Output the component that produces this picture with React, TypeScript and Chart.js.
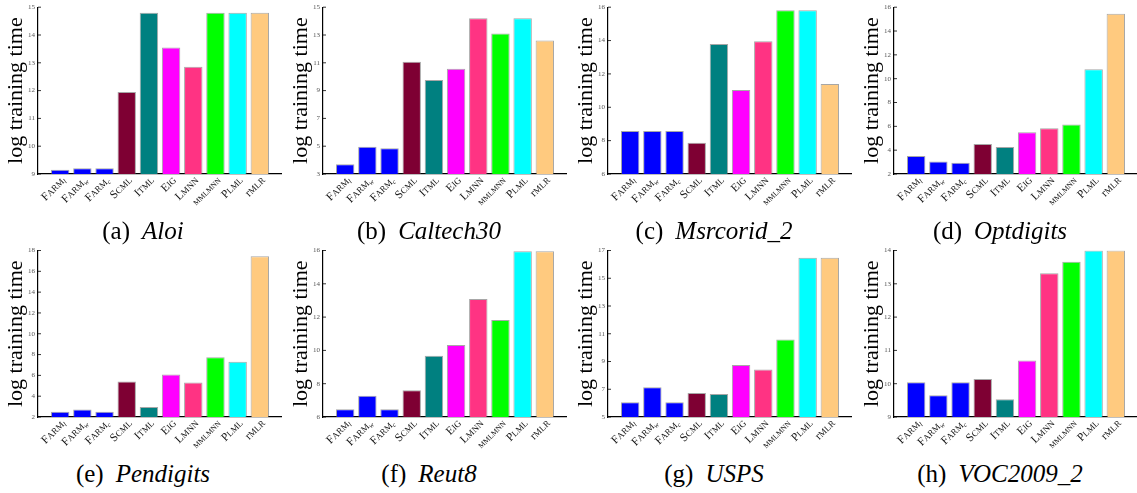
import React, { useEffect, useRef } from 'react';
import { Chart, registerables } from 'chart.js';

Chart.register(...registerables);

// ---------------- data ----------------
const methods = ['FARM_l', 'FARM_w', 'FARM_c', 'SCML', 'ITML', 'EIG', 'LMNN', 'MMLMNN', 'PLML', 'rMLR'];
const methodColors = ['#0000FF', '#0000FF', '#0000FF', '#7E0033', '#008080', '#FF00FF', '#FF3383', '#00FF00', '#00FFFF', '#FFCA7F'];

const aloiValues = [9.15, 9.21, 9.21, 11.95, 14.8, 13.55, 12.86, 14.8, 14.8, 14.8];
const caltech30Values = [3.7, 4.96, 4.86, 11.07, 9.76, 10.58, 14.2, 13.1, 14.2, 12.61];
const msrcorid2Values = [8.58, 8.58, 8.58, 7.88, 13.8, 11.04, 13.96, 15.82, 15.82, 11.4];
const optdigitsValues = [3.51, 3.04, 2.95, 4.52, 4.27, 5.5, 5.84, 6.15, 10.8, 15.45];
const pendigitsValues = [2.51, 2.73, 2.51, 5.41, 2.96, 6.08, 5.31, 7.73, 7.32, 17.45];
const reut8Values = [6.46, 7.28, 6.46, 7.6, 9.68, 10.32, 13.08, 11.82, 15.96, 15.96];
const uspsValues = [6.06, 7.14, 6.06, 6.73, 6.66, 8.74, 8.43, 10.59, 16.47, 16.47];
const voc2009Values = [10.04, 9.65, 10.04, 10.14, 9.53, 10.7, 13.32, 13.66, 14.0, 14.0];

const aloiTicks = [9, 10, 11, 12, 13, 14, 15];
const caltech30Ticks = [3, 5, 7, 9, 11, 13, 15];
const msrcorid2Ticks = [6, 8, 10, 12, 14, 16];
const optdigitsTicks = [2, 4, 6, 8, 10, 12, 14, 16];
const pendigitsTicks = [2, 4, 6, 8, 10, 12, 14, 16, 18];
const reut8Ticks = [6, 8, 10, 12, 14, 16];
const uspsTicks = [5, 7, 9, 11, 13, 15, 17];
const voc2009Ticks = [9, 10, 11, 12, 13, 14];

const panelLetters = ['a', 'b', 'c', 'd', 'e', 'f', 'g', 'h'];
const datasetNames = ['Aloi', 'Caltech30', 'Msrcorid_2', 'Optdigits', 'Pendigits', 'Reut8', 'USPS', 'VOC2009_2'];
const yTitle = 'log training time';

// ---------------- layout ----------------
const SERIF = "'Liberation Serif', 'Times New Roman', 'DejaVu Serif', serif";
const colLefts = [1, 286, 571, 857];
const rowTops = [0, 243];
const rowPadTop = [7, 7.5];
const CANVAS_W = 281;
const CANVAS_H = 215;
const Y_W = 37;
const X_H = 41;
const captionCx = [143, 429, 714, 1000];
const captionCy = [231, 474];

type Part = { t: string; s: number; sub?: boolean; it?: boolean };

function labelParts(name: string): Part[] {
  const [base, sub] = name.split('_');
  const parts: Part[] = [];
  if (base === 'MMLMNN') {
    parts.push({ t: base, s: 7.5 });
  } else {
    parts.push({ t: base[0], s: 11.5 });
    parts.push({ t: base.slice(1), s: 9 });
  }
  if (sub) parts.push({ t: sub, s: 7, sub: true, it: true });
  return parts;
}

const decorPlugin = {
  id: 'decor',
  afterDraw(chart: any) {
    const { ctx, chartArea, scales } = chart;
    const xs = scales.x;
    const ys = scales.y;
    ctx.save();
    // inward y tick marks
    ctx.strokeStyle = '#000';
    ctx.lineWidth = 0.8;
    ys.ticks.forEach((t: any) => {
      const py = ys.getPixelForValue(t.value);
      ctx.beginPath();
      ctx.moveTo(chartArea.left, py);
      ctx.lineTo(chartArea.left + 3, py);
      ctx.stroke();
    });
    // rotated category labels with small caps / subscripts
    ctx.fillStyle = '#111';
    ctx.textBaseline = 'alphabetic';
    methods.forEach((m, i) => {
      const px = xs.getPixelForValue(i + 1);
      const parts = labelParts(m);
      let total = 0;
      const widths = parts.map((p) => {
        ctx.font = `${p.it ? 'italic ' : ''}${p.s}px ${SERIF}`;
        const w = ctx.measureText(p.t).width;
        total += w;
        return w;
      });
      ctx.save();
      ctx.translate(px + 3, chartArea.bottom + 4);
      ctx.rotate(-Math.PI / 4);
      let cx = -total;
      parts.forEach((p, k) => {
        ctx.font = `${p.it ? 'italic ' : ''}${p.s}px ${SERIF}`;
        ctx.textAlign = 'left';
        ctx.fillText(p.t, cx, p.sub ? 6 : 4);
        cx += widths[k];
      });
      ctx.restore();
    });
    ctx.restore();
  },
};

const panelValues = [aloiValues, caltech30Values, msrcorid2Values, optdigitsValues, pendigitsValues, reut8Values, uspsValues, voc2009Values];
const panelTicks = [aloiTicks, caltech30Ticks, msrcorid2Ticks, optdigitsTicks, pendigitsTicks, reut8Ticks, uspsTicks, voc2009Ticks];

function Panel({ index }: { index: number }) {
  const ref = useRef<HTMLCanvasElement | null>(null);
  const row = Math.floor(index / 4);
  const col = index % 4;
  useEffect(() => {
    if (!ref.current) return;
    const values = panelValues[index];
    const ticks = panelTicks[index];
    const chart = new Chart(ref.current, {
      type: 'bar',
      data: {
        labels: ['', ...methods, ''],
        datasets: [
          {
            data: [null, ...values, null] as any,
            backgroundColor: ['transparent', ...methodColors, 'transparent'],
            borderColor: 'rgba(95,95,95,0.55)',
            borderWidth: 1,
            borderSkipped: false,
            categoryPercentage: 1,
            barPercentage: 0.83,
          },
        ],
      },
      options: {
        responsive: false,
        animation: false,
        events: [],
        layout: { padding: { top: rowPadTop[row], left: 0, right: 0, bottom: 0 } },
        plugins: { legend: { display: false }, tooltip: { enabled: false }, title: { display: false } },
        scales: {
          x: {
            offset: false,
            grid: { display: false, drawTicks: false },
            border: { display: true, color: '#000', width: 1.2 },
            ticks: { display: false },
            afterFit: (s: any) => {
              s.height = X_H;
            },
          },
          y: {
            min: ticks[0],
            max: ticks[ticks.length - 1],
            grid: { display: false, drawTicks: false },
            border: { display: true, color: '#000', width: 1.2 },
            afterBuildTicks: (s: any) => {
              s.ticks = ticks.map((v) => ({ value: v }));
            },
            ticks: {
              padding: 3,
              color: '#555',
              font: { family: SERIF, size: 7 },
              autoSkip: false,
            },
            title: {
              display: true,
              text: yTitle,
              color: '#000',
              font: { family: SERIF, size: 22 },
              padding: { top: 2, bottom: 0 },
            },
            afterFit: (s: any) => {
              s.width = Y_W;
            },
          },
        },
      },
      plugins: [decorPlugin],
    });
    return () => chart.destroy();
  }, [index]);
  return (
    <canvas
      ref={ref}
      width={CANVAS_W}
      height={CANVAS_H}
      style={{ position: 'absolute', left: colLefts[col], top: rowTops[row], width: CANVAS_W, height: CANVAS_H }}
    />
  );
}

function Caption({ index }: { index: number }) {
  const row = Math.floor(index / 4);
  const col = index % 4;
  return (
    <div
      style={{
        position: 'absolute',
        left: captionCx[col] - 150,
        top: captionCy[row] - 15,
        width: 300,
        height: 30,
        lineHeight: '30px',
        textAlign: 'center',
        fontFamily: SERIF,
        fontSize: 25,
        color: '#000',
        whiteSpace: 'nowrap',
      }}
    >
      ({panelLetters[index]})
      <span style={{ fontStyle: 'italic', marginLeft: 12 }}>{datasetNames[index]}</span>
    </div>
  );
}

export default function App() {
  return (
    <div
      style={{
        position: 'fixed',
        left: 0,
        top: 0,
        width: 1137,
        height: 493,
        overflow: 'hidden',
        background: '#fff',
      }}
    >
      {panelLetters.map((_, i) => (
        <Panel key={`p${i}`} index={i} />
      ))}
      {panelLetters.map((_, i) => (
        <Caption key={`c${i}`} index={i} />
      ))}
    </div>
  );
}
